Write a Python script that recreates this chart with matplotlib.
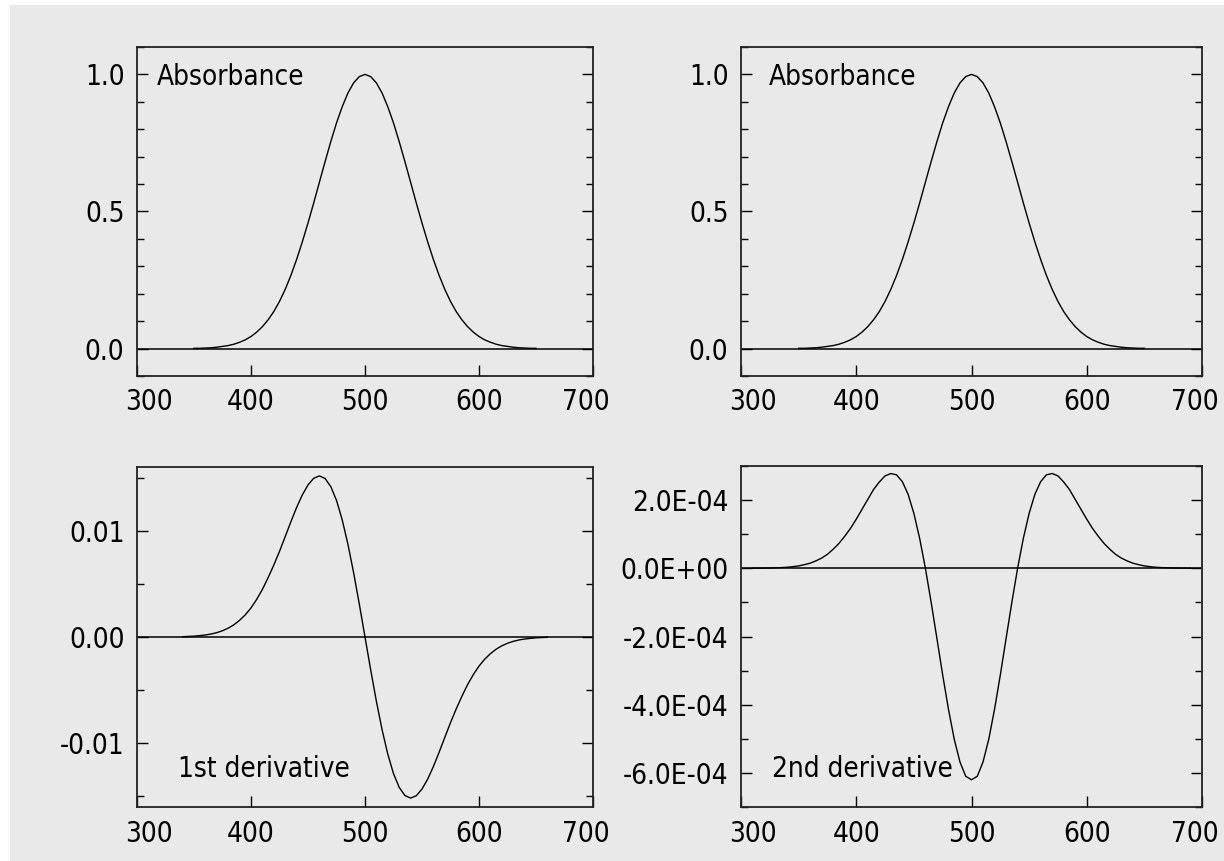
import matplotlib.pyplot as plt
from matplotlib.patches import Rectangle
from matplotlib.ticker import MultipleLocator
from matplotlib.transforms import ScaledTranslation

plt.rcParams['font.family'] = ['DejaVu Sans']
plt.rcParams['font.stretch'] = 'condensed'

# Absorbance band (read every 5 nm)
wl_abs = list(range(350, 651, 5))
absorbance = [0.001, 0.001, 0.002, 0.003, 0.005, 0.008, 0.011, 0.016, 0.023, 0.032,
              0.044, 0.060, 0.080, 0.105, 0.135, 0.172, 0.216, 0.267, 0.325, 0.389,
              0.458, 0.531, 0.607, 0.682, 0.755, 0.823, 0.882, 0.932, 0.969, 0.992,
              1.000,
              0.992, 0.969, 0.932, 0.882, 0.823, 0.755, 0.682, 0.607, 0.531, 0.458,
              0.389, 0.325, 0.267, 0.216, 0.172, 0.135, 0.105, 0.080, 0.060, 0.044,
              0.032, 0.023, 0.016, 0.011, 0.008, 0.005, 0.003, 0.002, 0.001, 0.001]

# 1st derivative
wl_d1 = list(range(340, 661, 5))
deriv1 = [0.00003, 0.00005, 0.00008, 0.00013, 0.00019, 0.00028, 0.00041, 0.00059,
          0.00083, 0.00115, 0.00157, 0.00209, 0.00274, 0.00354, 0.00448, 0.00558,
          0.00677, 0.00806, 0.00945, 0.01085, 0.01219, 0.01337, 0.01431, 0.01494,
          0.01516, 0.01492, 0.01415, 0.01286, 0.01103, 0.00874, 0.00606, 0.00310,
          0.0,
          -0.00310, -0.00606, -0.00874, -0.01103, -0.01286, -0.01415, -0.01492,
          -0.01516, -0.01494, -0.01431, -0.01337, -0.01219, -0.01085, -0.00945,
          -0.00806, -0.00677, -0.00558, -0.00448, -0.00354, -0.00274, -0.00209,
          -0.00157, -0.00115, -0.00083, -0.00059, -0.00041, -0.00028, -0.00019,
          -0.00013, -0.00008, -0.00005, -0.00003]

# 2nd derivative, in units of 1E-04
wl_d2 = list(range(310, 691, 5))
deriv2_e4 = [0.002, 0.003, 0.005, 0.008, 0.013, 0.020, 0.030, 0.048, 0.07, 0.106,
             0.15, 0.218, 0.30, 0.41, 0.56, 0.73, 0.94, 1.17, 1.44, 1.73,
             2.02, 2.31, 2.53, 2.71, 2.78, 2.74, 2.54, 2.17, 1.61, 0.88,
             0.0, -1.00, -2.06, -3.13, -4.13, -5.01, -5.68, -6.10,
             -6.20,
             -6.10, -5.68, -5.01, -4.13, -3.13, -2.06, -1.00, 0.0,
             0.88, 1.61, 2.17, 2.54, 2.74, 2.78, 2.71, 2.53, 2.31, 2.02,
             1.73, 1.44, 1.17, 0.94, 0.73, 0.56, 0.41, 0.30, 0.218, 0.15,
             0.106, 0.07, 0.048, 0.030, 0.020, 0.013, 0.008, 0.005, 0.003, 0.002]

bg = '#e9e9e9'
fs = 20

fig = plt.figure(figsize=(12.24, 8.61), dpi=100, facecolor='white')
fig.patches.append(Rectangle((10 / 1224, 0), 1, 1 - 5 / 861, transform=fig.transFigure,
                             facecolor=bg, edgecolor='none', zorder=-10))

W, H = 1224, 861
def make_ax(l, t, r, b):
    ax = fig.add_axes([l / W, 1 - b / H, (r - l) / W, (b - t) / H])
    ax.set_facecolor(bg)
    for s in ax.spines.values():
        s.set_linewidth(1.3)
        s.set_color('#222222')
    ax.set_xlim(300, 700)
    ax.set_xticks([300, 400, 500, 600, 700])
    ax.tick_params(axis='x', direction='in', length=8, width=1, bottom=True, top=False,
                   labelsize=fs, pad=9)
    ax.tick_params(axis='y', which='major', direction='in', length=8, width=1,
                   left=True, right=True, labelsize=fs, pad=9)
    ax.tick_params(axis='y', which='minor', direction='in', length=5, width=1,
                   left=True, right=True)
    ax.axhline(0, color='black', lw=1.1)
    # end labels sit a little inside the frame
    labels = ax.get_xticklabels()
    labels[0].set_transform(labels[0].get_transform() + ScaledTranslation(12 / 100, 0, fig.dpi_scale_trans))
    labels[-1].set_transform(labels[-1].get_transform() + ScaledTranslation(-7 / 100, 0, fig.dpi_scale_trans))
    return ax

# top panels: absorbance
for l, r, tx in [(137, 593, 317), (741, 1202, 324)]:
    ax = make_ax(l, 47, r, 376)
    ax.plot(wl_abs, absorbance, color='black', lw=1.0)
    ax.set_ylim(-0.1, 1.1)
    ax.set_yticks([0.0, 0.5, 1.0], ['0.0', '0.5', '1.0'])
    ax.yaxis.set_minor_locator(MultipleLocator(0.1))
    ax.text(tx, 0.99, 'Absorbance', fontsize=fs, va='center', ha='left')

# bottom left: 1st derivative
ax = make_ax(137, 467, 593, 807)
ax.plot(wl_d1, deriv1, color='black', lw=1.0)
ax.set_ylim(-0.016, 0.016)
ax.set_yticks([-0.01, 0.0, 0.01], ['-0.01', '0.00', '0.01'])
ax.yaxis.set_minor_locator(MultipleLocator(0.005))
ax.text(336, -0.0124, '1st derivative', fontsize=fs, va='center', ha='left')

# bottom right: 2nd derivative
ax = make_ax(741, 466, 1202, 807)
ax.plot(wl_d2, [v * 1e-4 for v in deriv2_e4], color='black', lw=1.0)
ax.set_ylim(-7e-4, 3e-4)
ax.set_yticks([-6e-4, -4e-4, -2e-4, 0.0, 2e-4],
              ['-6.0E-04', '-4.0E-04', '-2.0E-04', '0.0E+00', '2.0E-04'])
ax.yaxis.set_minor_locator(MultipleLocator(1e-4))
ax.text(327, -5.9e-4, '2nd derivative', fontsize=fs, va='center', ha='left')

fig.savefig('out.png', dpi=100, facecolor='white')
